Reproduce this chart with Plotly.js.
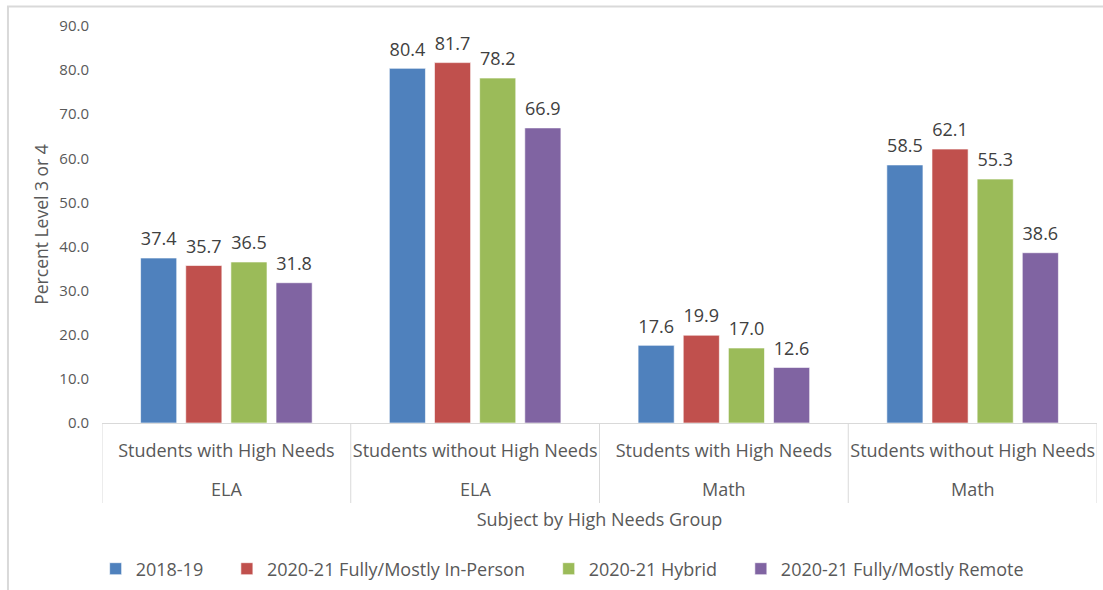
<!DOCTYPE html>
<html>
<head>
<meta charset="utf-8">
<script src="https://cdn.plot.ly/plotly-3.0.1.min.js"></script>
<style>html,body{margin:0;padding:0;background:#fff;}#chart{width:1103px;height:590px;}</style>
</head>
<body>
<div id="chart"></div>
<script>
// Data
const subjects = ["ELA", "ELA", "Math", "Math"];
const groups = ["Students with High Needs", "Students without High Needs", "Students with High Needs", "Students without High Needs"];
const seriesNames = ["2018-19", "2020-21 Fully/Mostly In-Person", "2020-21 Hybrid", "2020-21 Fully/Mostly Remote"];
const v2018 = [37.4, 80.4, 17.6, 58.5];
const vInPerson = [35.7, 81.7, 19.9, 62.1];
const vHybrid = [36.5, 78.2, 17.0, 55.3];
const vRemote = [31.8, 66.9, 12.6, 38.6];
const seriesValues = [v2018, vInPerson, vHybrid, vRemote];
const colors = ["#4F81BD", "#C0504D", "#9BBB59", "#8064A2"];

const FONT = "Open Sans, Liberation Sans, sans-serif";
const GRAY = "#595959";
const idx = groups.map((_, i) => i);
const legendPad = "\u00a0\u00a0\u00a0\u00a0";

const traces = seriesValues.map((vals, i) => ({
  type: "bar",
  name: seriesNames[i] + legendPad,
  x: idx,
  y: vals,
  marker: {color: colors[i], line: {color: "rgba(255,255,255,0.6)", width: 1}},
  text: vals.map(v => "<span style='font-size:18px'>" + v.toFixed(1) + "</span><br><span style='color:rgba(0,0,0,0)'>.</span>"),
  textposition: "outside",
  cliponaxis: false,
  textfont: {family: FONT, size: 6, color: "#404040"},
  hoverinfo: "skip"
}));

// plot-area geometry (px) used to place the lower label row
const plotTop = 26, plotBottom = 423, plotH = plotBottom - plotTop;
const toPaperY = px => (plotBottom - px) / plotH;

const annotations = subjects.map((s, i) => ({
  xref: "x", yref: "paper", x: i, y: toPaperY(488.5),
  text: s, showarrow: false, yanchor: "middle", xanchor: "center",
  font: {family: FONT, size: 18, color: GRAY}
}));

const shapes = [];
for (let i = 0; i <= groups.length; i++) {
  shapes.push({
    type: "line", xref: "x", yref: "paper",
    x0: i - 0.5, x1: i - 0.5, y0: 0, y1: toPaperY(503),
    line: {color: "#d9d9d9", width: 1}
  });
}
shapes.push({
  type: "rect", xref: "paper", yref: "paper",
  x0: -0.0945, x1: 1.02, y0: -0.45, y1: 1.049,
  line: {color: "#d9d9d9", width: 2}, fillcolor: "rgba(0,0,0,0)", layer: "below"
});

const layout = {
  width: 1103, height: 590,
  margin: {l: 102, r: 6, t: plotTop, b: 590 - plotBottom, autoexpand: false},
  paper_bgcolor: "#fff", plot_bgcolor: "#fff",
  font: {family: FONT, color: GRAY},
  barmode: "group",
  bargap: 0.274,
  bargroupgap: 0.2,
  showlegend: true,
  xaxis: {
    range: [-0.5, groups.length - 0.5],
    tickmode: "array", tickvals: idx, ticktext: groups,
    showgrid: false, zeroline: false,
    showline: true, linecolor: "#d9d9d9", linewidth: 1,
    ticks: "",
    automargin: false,
    ticklabelstandoff: 11,
    tickfont: {family: FONT, size: 18, color: GRAY},
    title: {text: "Subject by High Needs Group", font: {family: FONT, size: 18, color: GRAY}, standoff: 52}
  },
  yaxis: {
    range: [0, 90],
    dtick: 10,
    tickformat: ".1f",
    showgrid: false,
    zeroline: false,
    showline: false,
    ticks: "",
    automargin: false,
    tickfont: {family: FONT, size: 15, color: GRAY},
    ticklabelstandoff: 12,
    title: {text: "Percent Level 3 or 4", font: {family: FONT, size: 17.5, color: GRAY}, standoff: 6}
  },
  legend: {
    orientation: "h",
    x: 0.472, xanchor: "center",
    y: toPaperY(569), yanchor: "middle",
    font: {family: FONT, size: 18, color: GRAY},
    itemwidth: 30,
    traceorder: "normal"
  },
  annotations: annotations,
  shapes: shapes
};

Plotly.newPlot("chart", traces, layout, {displayModeBar: false, staticPlot: true});
</script>
</body>
</html>
